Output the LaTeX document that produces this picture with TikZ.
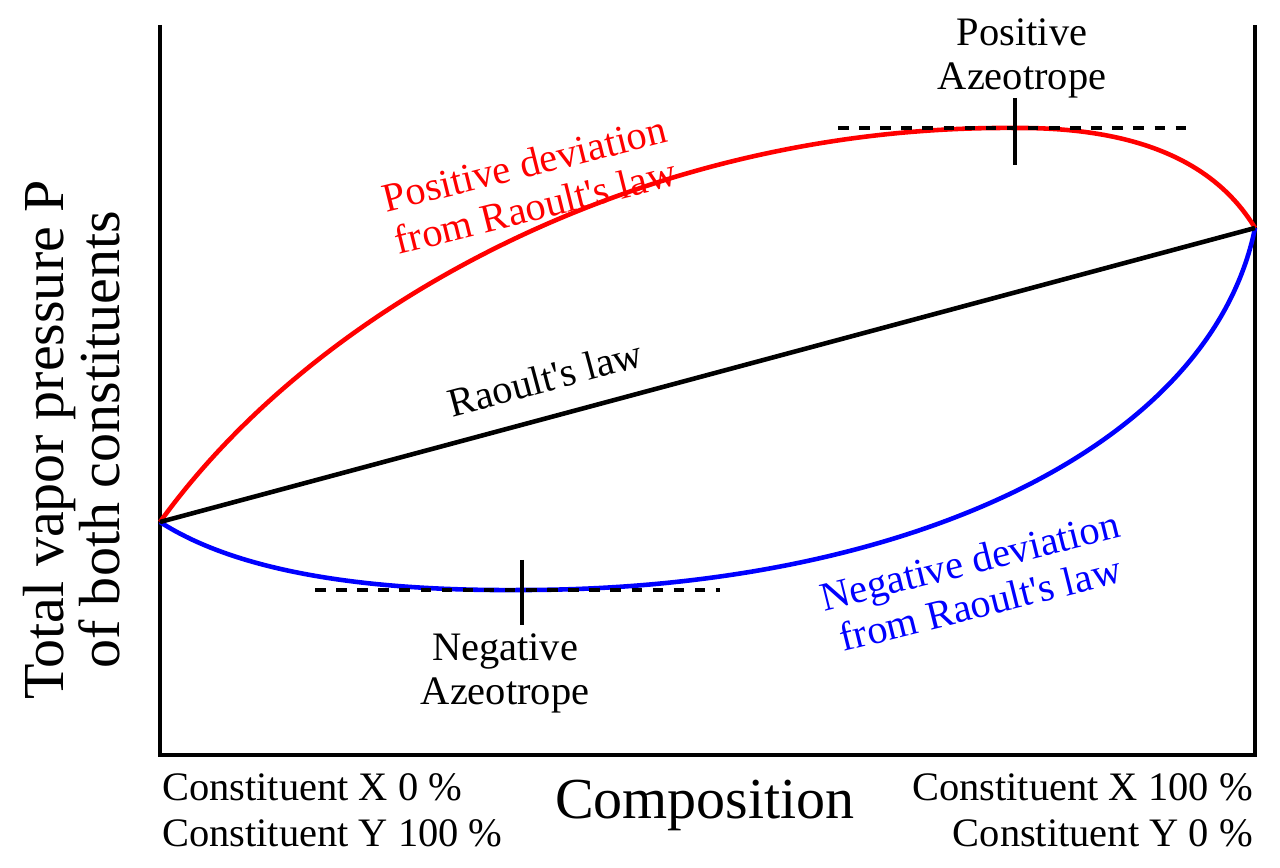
\documentclass[tikz,border=0pt]{standalone}
\usepackage{fontspec}
\setmainfont{Liberation Serif}
\newcommand{\aps}{\textquotesingle}
\begin{document}
\begin{tikzpicture}[x=0.01cm,y=-0.01cm,line width=1.3pt,
  lbl/.style={font=\fontsize{11.5}{12.5}\selectfont,align=center,inner sep=0pt},
  big/.style={font=\fontsize{16.5}{16}\selectfont,align=center,inner sep=0pt}]
\useasboundingbox (0,0) rectangle (1280,868);
\coordinate (top left) at (160,25);
\coordinate (origin) at (160,755);
\coordinate (corner) at (1255,755);
\coordinate (top right) at (1255,25);
\coordinate (pA) at (160,522);
\coordinate (pB) at (1255,228);
\coordinate (maxp) at (1015,128);
\coordinate (minp) at (522,590);
\draw (top left) -- (origin) -- (corner) -- (top right);
% curves
\draw[red] (pA) .. controls (320,300) and (650,125) .. (maxp)
  .. controls (1150,127) and (1220,170) .. (pB);
\draw[blue] (pA) .. controls (250,580) and (400,591) .. (minp)
  .. controls (900,590) and (1210,450) .. (pB);
\draw (pA) -- (pB);
% azeotropes
\draw[dashed] (838,128) -- (1188,128) (315,590) -- (720,590);
\draw (1015,98) -- (1015,165) (522,560) -- (522,625);
% labels
\node[lbl] (posaz) at (1022,58) {Positive\\Azeotrope};
\node[lbl] (negaz) at (505,673) {Negative\\Azeotrope};
\node[lbl,red,rotate=14] (poslbl) at (530,185) {Positive deviation\\from Raoult\aps s law};
\node[lbl,blue,rotate=14] (neglbl) at (975,582) {Negative deviation\\from Raoult\aps s law};
\node[lbl,rotate=15] (raoult) at (545,378) {Raoult\aps s law};
\node[big,rotate=90] (ylbl) at (72,440) {Total vapor pressure P\\of both constituents};
\node[big] (xlbl) at (705,805) {Composition};
\node[lbl,anchor=west] (x0) at (160,787) {Constituent X 0 \%};
\node[lbl,anchor=west] (y100) at (160,833) {Constituent Y 100 \%};
\node[lbl,anchor=east] (x100) at (1255,787) {Constituent X 100 \%};
\node[lbl,anchor=east] (y0) at (1255,833) {Constituent Y 0 \%};
\end{tikzpicture}
\end{document}
